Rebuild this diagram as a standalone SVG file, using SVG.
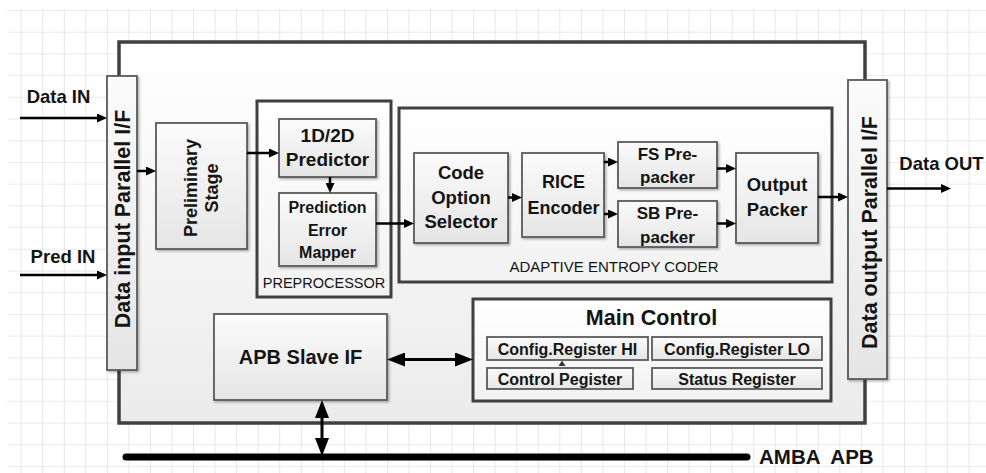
<svg xmlns="http://www.w3.org/2000/svg" width="986" height="473" viewBox="0 0 986 473">
  <defs>
    <pattern id="grid" x="20.7" y="10" width="21.545" height="21.71" patternUnits="userSpaceOnUse">
      <path d="M0 0V21.71M0 0H21.545" fill="none" stroke="#d8d8d8" stroke-width="1.2"/>
    </pattern>
    <linearGradient id="gOuter" x1="0" y1="0" x2="0" y2="1">
      <stop offset="0" stop-color="#ffffff"/>
      <stop offset="1" stop-color="#ebebeb"/>
    </linearGradient>
    <linearGradient id="gBox" x1="0" y1="0" x2="0" y2="1">
      <stop offset="0" stop-color="#fbfbfb"/>
      <stop offset="1" stop-color="#e5e5e5"/>
    </linearGradient>
    <linearGradient id="gGroup" x1="0" y1="0" x2="0" y2="1">
      <stop offset="0" stop-color="#ffffff"/>
      <stop offset="1" stop-color="#f2f2f2"/>
    </linearGradient>
    <filter id="sh" x="-10%" y="-10%" width="130%" height="130%">
      <feDropShadow dx="1.5" dy="1.5" stdDeviation="1" flood-color="#000" flood-opacity="0.3"/>
    </filter>
    <marker id="a" viewBox="0 0 10 9" markerWidth="10" markerHeight="9" refX="6" refY="4.5" orient="auto" markerUnits="userSpaceOnUse">
      <path d="M0 0L10 4.5L0 9z" fill="#000"/>
    </marker>
    <marker id="A" viewBox="0 0 18 14" markerWidth="18" markerHeight="14" refX="13" refY="7" orient="auto-start-reverse" markerUnits="userSpaceOnUse">
      <path d="M0 0L18 7L0 14z" fill="#000"/>
    </marker>
    <style>
      .grp { fill: url(#gGroup); stroke: #404040; stroke-width: 3; }
      .box { fill: url(#gBox); stroke: #5a5a5a; stroke-width: 1.8; filter: url(#sh); }
      .reg { fill: url(#gBox); stroke: #5a5a5a; stroke-width: 1.8; }
      .t { font-family: "Liberation Sans", Arial, sans-serif; font-weight: bold; fill: #141414; text-anchor: middle; }
      .n { font-family: "Liberation Sans", Arial, sans-serif; font-weight: normal; fill: #141414; text-anchor: middle; }
      .c { fill: none; stroke: #000; stroke-width: 2.5; }
      .cb { fill: none; stroke: #000; stroke-width: 3; }
    </style>
  </defs>

  <rect x="0" y="0" width="986" height="473" fill="#ffffff"/>
  <rect x="7" y="9" width="979" height="464" fill="url(#grid)"/>

  <g id="system">
    <rect x="119" y="42" width="746" height="381" fill="url(#gOuter)" stroke="#404040" stroke-width="3.5"/>
  </g>

  <g id="bus">
    <line x1="126" y1="457" x2="747" y2="457" stroke="#000" stroke-width="7" stroke-linecap="round"/>
    <text class="t" x="759" y="463.5" font-size="20.5" style="text-anchor:start" xml:space="preserve">AMBA  APB</text>
  </g>

  <g id="data-input-if">
    <rect class="box" x="107" y="76" width="30" height="294"/>
    <text class="t" font-size="21.5" transform="translate(129.5,219) rotate(-90)">Data input Parallel I/F</text>
  </g>

  <g id="data-output-if">
    <rect class="box" x="848" y="80" width="39" height="299"/>
    <text class="t" font-size="21.5" transform="translate(876.5,232.5) rotate(-90)">Data output Parallel I/F</text>
  </g>

  <g id="preliminary-stage">
    <rect class="box" x="156" y="123" width="91" height="126"/>
    <text class="t" font-size="18" transform="translate(197,188) rotate(-90)"><tspan x="0" y="0">Preliminary</tspan><tspan x="0" y="21">Stage</tspan></text>
  </g>

  <g id="preprocessor">
    <rect class="grp" x="257" y="101" width="134" height="196"/>
    <text class="n" x="324" y="288" font-size="14.5">PREPROCESSOR</text>
  </g>

  <g id="predictor">
    <rect class="box" x="279" y="119" width="97" height="58"/>
    <text class="t" x="327.5" y="141.7" font-size="19">1D/2D</text>
    <text class="t" x="327.5" y="166" font-size="19">Predictor</text>
  </g>

  <g id="error-mapper">
    <rect class="box" x="279" y="193" width="97" height="73"/>
    <text class="t" x="327.5" y="213" font-size="16">Prediction</text>
    <text class="t" x="327.5" y="235.5" font-size="16">Error</text>
    <text class="t" x="327.5" y="257.5" font-size="16">Mapper</text>
  </g>

  <g id="entropy-coder">
    <rect class="grp" x="399" y="108" width="433" height="174"/>
    <text class="n" x="614" y="272" font-size="15">ADAPTIVE ENTROPY CODER</text>
  </g>

  <g id="code-option-selector">
    <rect class="box" x="414" y="153" width="94" height="90"/>
    <text class="t" x="461" y="179" font-size="18.5">Code</text>
    <text class="t" x="461" y="203.5" font-size="18.5">Option</text>
    <text class="t" x="461" y="228" font-size="18.5">Selector</text>
  </g>

  <g id="rice-encoder">
    <rect class="box" x="522" y="153" width="82" height="84"/>
    <text class="t" x="563.5" y="188" font-size="18">RICE</text>
    <text class="t" x="563.5" y="214" font-size="18">Encoder</text>
  </g>

  <g id="fs-prepacker">
    <rect class="box" x="618" y="142" width="99" height="46"/>
    <text class="t" x="667.5" y="159.5" font-size="17">FS Pre-</text>
    <text class="t" x="667.5" y="182.5" font-size="17">packer</text>
  </g>

  <g id="sb-prepacker">
    <rect class="box" x="618" y="201" width="99" height="46"/>
    <text class="t" x="667.5" y="219" font-size="17">SB Pre-</text>
    <text class="t" x="667.5" y="242.5" font-size="17">packer</text>
  </g>

  <g id="output-packer">
    <rect class="box" x="736" y="153" width="82" height="90"/>
    <text class="t" x="777" y="190.5" font-size="18.5">Output</text>
    <text class="t" x="777" y="216" font-size="18.5">Packer</text>
  </g>

  <g id="main-control">
    <rect class="grp" x="473" y="299" width="358" height="102"/>
    <text class="t" x="651.5" y="324.5" font-size="21.5">Main Control</text>
  </g>

  <g id="config-register-hi">
    <rect class="reg" x="487" y="337" width="161" height="23"/>
    <text class="t" x="567.5" y="354.5" font-size="16">Config.Register HI</text>
  </g>

  <g id="config-register-lo">
    <rect class="reg" x="652" y="337" width="170" height="23"/>
    <text class="t" x="737" y="354.5" font-size="16">Config.Register LO</text>
  </g>

  <g id="control-register">
    <rect class="reg" x="487" y="368" width="146" height="21"/>
    <text class="t" x="560" y="384.5" font-size="16">Control Pegister</text>
  </g>

  <g id="status-register">
    <rect class="reg" x="652" y="368" width="170" height="21"/>
    <text class="t" x="737" y="384.5" font-size="16">Status Register</text>
  </g>

  <g id="apb-slave-if">
    <rect class="box" x="214" y="314" width="173" height="86"/>
    <text class="t" x="300.5" y="364" font-size="20">APB Slave IF</text>
  </g>

  <g id="inputs-outputs">
    <text class="t" x="58.5" y="103" font-size="18.5">Data IN</text>
    <text class="t" x="63" y="263" font-size="18.5">Pred IN</text>
    <text class="t" x="941.5" y="170" font-size="18.5">Data OUT</text>
  </g>

  <g id="connectors">
    <path class="c" d="M20 118H103" marker-end="url(#a)"/>
    <path class="c" d="M20 275H103" marker-end="url(#a)"/>
    <path class="c" d="M137 171H152" marker-end="url(#a)"/>
    <path class="c" d="M247 153H275" marker-end="url(#a)"/>
    <path class="c" d="M330 177V189" marker-end="url(#a)"/>
    <path class="c" d="M376 223.5H410" marker-end="url(#a)"/>
    <path class="c" d="M508 197.5H518" marker-end="url(#a)"/>
    <path class="c" d="M604 162H614" marker-end="url(#a)"/>
    <path class="c" d="M604 214H614" marker-end="url(#a)"/>
    <path class="c" d="M717 168.5H732" marker-end="url(#a)"/>
    <path class="c" d="M717 223.5H732" marker-end="url(#a)"/>
    <path class="c" d="M818 197H844" marker-end="url(#a)"/>
    <path class="c" d="M887 188.5H947" marker-end="url(#a)"/>
    <path class="cb" d="M392 359.5H468" marker-start="url(#A)" marker-end="url(#A)"/>
    <path class="cb" d="M322 405V451" marker-start="url(#A)" marker-end="url(#A)"/>
    <path d="M558.5 366L562 360.5L565.5 366z" fill="#333"/>
  </g>
</svg>
